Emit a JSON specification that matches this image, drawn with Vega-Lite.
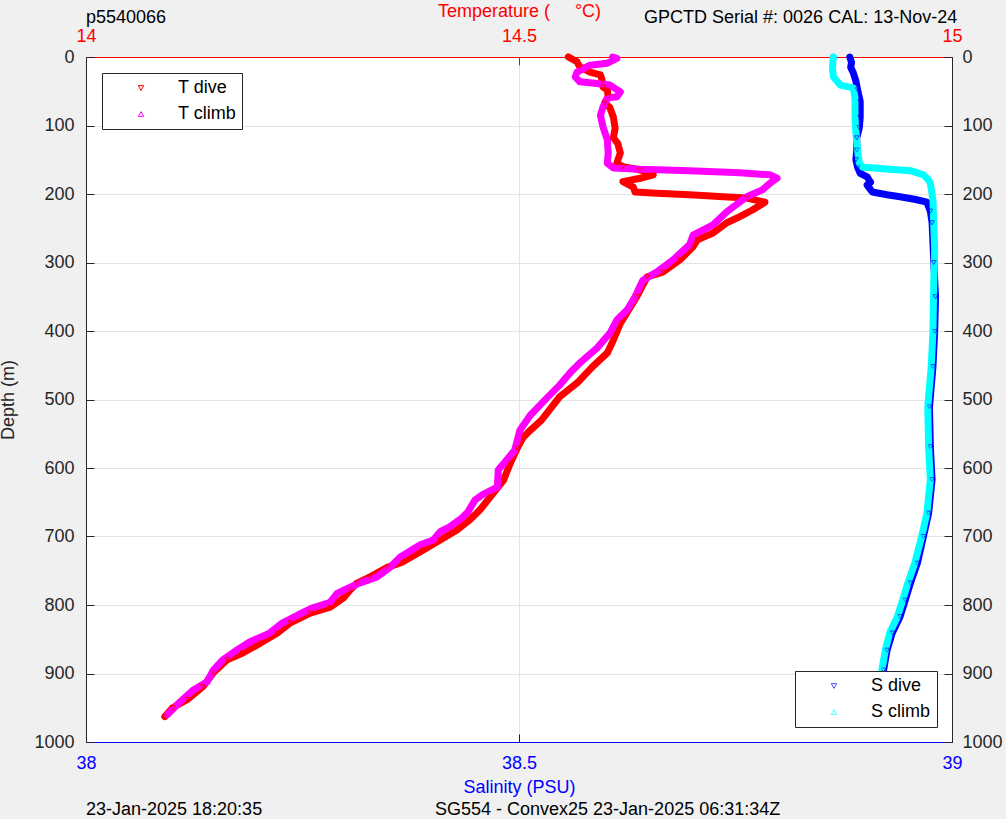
{
  "$schema": "https://vega.github.io/schema/vega-lite/v6.json",
  "width": 866,
  "height": 685,
  "autosize": {"type": "none"},
  "padding": {"left": 86, "top": 57, "right": 54, "bottom": 77},
  "background": "#f0f0f0",
  "config": {
    "view": {"fill": "white", "stroke": null},
    "font": "Liberation Sans",
    "axis": {"labelFont": "Liberation Sans", "titleFont": "Liberation Sans", "labelFontSize": 18, "titleFontSize": 18, "titleFontWeight": "normal", "labelFlush": false, "labelOverlap": false, "domainWidth": 1, "tickWidth": 1},
    "legend": {"labelFont": "Liberation Sans", "labelFontSize": 18, "labelColor": "#000000"}
  },
  "datasets": {
    "temp": [
      {"depth": 0, "T": 14.557, "series": "T dive"},
      {"depth": 7, "T": 14.567, "series": "T dive"},
      {"depth": 14, "T": 14.570, "series": "T dive"},
      {"depth": 22, "T": 14.582, "series": "T dive"},
      {"depth": 26, "T": 14.594, "series": "T dive"},
      {"depth": 34, "T": 14.596, "series": "T dive"},
      {"depth": 44, "T": 14.597, "series": "T dive"},
      {"depth": 48, "T": 14.602, "series": "T dive"},
      {"depth": 58, "T": 14.603, "series": "T dive"},
      {"depth": 67, "T": 14.599, "series": "T dive"},
      {"depth": 74, "T": 14.605, "series": "T dive"},
      {"depth": 88, "T": 14.609, "series": "T dive"},
      {"depth": 104, "T": 14.611, "series": "T dive"},
      {"depth": 118, "T": 14.609, "series": "T dive"},
      {"depth": 126, "T": 14.614, "series": "T dive"},
      {"depth": 140, "T": 14.617, "series": "T dive"},
      {"depth": 155, "T": 14.613, "series": "T dive"},
      {"depth": 160, "T": 14.620, "series": "T dive"},
      {"depth": 165, "T": 14.640, "series": "T dive"},
      {"depth": 172, "T": 14.655, "series": "T dive"},
      {"depth": 177, "T": 14.640, "series": "T dive"},
      {"depth": 182, "T": 14.620, "series": "T dive"},
      {"depth": 190, "T": 14.632, "series": "T dive"},
      {"depth": 197, "T": 14.634, "series": "T dive"},
      {"depth": 199, "T": 14.659, "series": "T dive"},
      {"depth": 201, "T": 14.697, "series": "T dive"},
      {"depth": 204, "T": 14.736, "series": "T dive"},
      {"depth": 206, "T": 14.763, "series": "T dive"},
      {"depth": 212, "T": 14.784, "series": "T dive"},
      {"depth": 223, "T": 14.770, "series": "T dive"},
      {"depth": 233, "T": 14.755, "series": "T dive"},
      {"depth": 242, "T": 14.740, "series": "T dive"},
      {"depth": 257, "T": 14.724, "series": "T dive"},
      {"depth": 267, "T": 14.706, "series": "T dive"},
      {"depth": 277, "T": 14.701, "series": "T dive"},
      {"depth": 296, "T": 14.686, "series": "T dive"},
      {"depth": 314, "T": 14.666, "series": "T dive"},
      {"depth": 321, "T": 14.648, "series": "T dive"},
      {"depth": 350, "T": 14.636, "series": "T dive"},
      {"depth": 389, "T": 14.617, "series": "T dive"},
      {"depth": 413, "T": 14.609, "series": "T dive"},
      {"depth": 432, "T": 14.602, "series": "T dive"},
      {"depth": 452, "T": 14.585, "series": "T dive"},
      {"depth": 476, "T": 14.567, "series": "T dive"},
      {"depth": 496, "T": 14.547, "series": "T dive"},
      {"depth": 530, "T": 14.526, "series": "T dive"},
      {"depth": 545, "T": 14.513, "series": "T dive"},
      {"depth": 555, "T": 14.505, "series": "T dive"},
      {"depth": 571, "T": 14.498, "series": "T dive"},
      {"depth": 593, "T": 14.490, "series": "T dive"},
      {"depth": 618, "T": 14.482, "series": "T dive"},
      {"depth": 642, "T": 14.467, "series": "T dive"},
      {"depth": 661, "T": 14.455, "series": "T dive"},
      {"depth": 676, "T": 14.443, "series": "T dive"},
      {"depth": 691, "T": 14.428, "series": "T dive"},
      {"depth": 705, "T": 14.409, "series": "T dive"},
      {"depth": 720, "T": 14.389, "series": "T dive"},
      {"depth": 737, "T": 14.366, "series": "T dive"},
      {"depth": 745, "T": 14.348, "series": "T dive"},
      {"depth": 759, "T": 14.328, "series": "T dive"},
      {"depth": 768, "T": 14.313, "series": "T dive"},
      {"depth": 778, "T": 14.305, "series": "T dive"},
      {"depth": 790, "T": 14.297, "series": "T dive"},
      {"depth": 803, "T": 14.282, "series": "T dive"},
      {"depth": 812, "T": 14.259, "series": "T dive"},
      {"depth": 826, "T": 14.236, "series": "T dive"},
      {"depth": 841, "T": 14.221, "series": "T dive"},
      {"depth": 856, "T": 14.201, "series": "T dive"},
      {"depth": 870, "T": 14.181, "series": "T dive"},
      {"depth": 880, "T": 14.163, "series": "T dive"},
      {"depth": 899, "T": 14.147, "series": "T dive"},
      {"depth": 919, "T": 14.135, "series": "T dive"},
      {"depth": 938, "T": 14.117, "series": "T dive"},
      {"depth": 950, "T": 14.100, "series": "T dive"},
      {"depth": 963, "T": 14.091, "series": "T dive"},
      {"depth": 0, "T": 14.608, "series": "T climb"},
      {"depth": 2, "T": 14.613, "series": "T climb"},
      {"depth": 9, "T": 14.602, "series": "T climb"},
      {"depth": 12, "T": 14.582, "series": "T climb"},
      {"depth": 22, "T": 14.567, "series": "T climb"},
      {"depth": 29, "T": 14.565, "series": "T climb"},
      {"depth": 36, "T": 14.570, "series": "T climb"},
      {"depth": 38, "T": 14.585, "series": "T climb"},
      {"depth": 41, "T": 14.605, "series": "T climb"},
      {"depth": 51, "T": 14.617, "series": "T climb"},
      {"depth": 58, "T": 14.613, "series": "T climb"},
      {"depth": 60, "T": 14.602, "series": "T climb"},
      {"depth": 73, "T": 14.597, "series": "T climb"},
      {"depth": 85, "T": 14.594, "series": "T climb"},
      {"depth": 102, "T": 14.597, "series": "T climb"},
      {"depth": 121, "T": 14.602, "series": "T climb"},
      {"depth": 140, "T": 14.603, "series": "T climb"},
      {"depth": 155, "T": 14.602, "series": "T climb"},
      {"depth": 162, "T": 14.609, "series": "T climb"},
      {"depth": 164, "T": 14.640, "series": "T climb"},
      {"depth": 166, "T": 14.697, "series": "T climb"},
      {"depth": 169, "T": 14.755, "series": "T climb"},
      {"depth": 172, "T": 14.790, "series": "T climb"},
      {"depth": 177, "T": 14.798, "series": "T climb"},
      {"depth": 184, "T": 14.790, "series": "T climb"},
      {"depth": 194, "T": 14.781, "series": "T climb"},
      {"depth": 204, "T": 14.763, "series": "T climb"},
      {"depth": 226, "T": 14.740, "series": "T climb"},
      {"depth": 245, "T": 14.724, "series": "T climb"},
      {"depth": 260, "T": 14.701, "series": "T climb"},
      {"depth": 274, "T": 14.697, "series": "T climb"},
      {"depth": 296, "T": 14.678, "series": "T climb"},
      {"depth": 314, "T": 14.659, "series": "T climb"},
      {"depth": 326, "T": 14.643, "series": "T climb"},
      {"depth": 350, "T": 14.634, "series": "T climb"},
      {"depth": 369, "T": 14.625, "series": "T climb"},
      {"depth": 384, "T": 14.613, "series": "T climb"},
      {"depth": 403, "T": 14.605, "series": "T climb"},
      {"depth": 425, "T": 14.590, "series": "T climb"},
      {"depth": 447, "T": 14.570, "series": "T climb"},
      {"depth": 461, "T": 14.559, "series": "T climb"},
      {"depth": 479, "T": 14.547, "series": "T climb"},
      {"depth": 498, "T": 14.532, "series": "T climb"},
      {"depth": 523, "T": 14.513, "series": "T climb"},
      {"depth": 545, "T": 14.501, "series": "T climb"},
      {"depth": 574, "T": 14.495, "series": "T climb"},
      {"depth": 588, "T": 14.486, "series": "T climb"},
      {"depth": 603, "T": 14.476, "series": "T climb"},
      {"depth": 628, "T": 14.475, "series": "T climb"},
      {"depth": 639, "T": 14.458, "series": "T climb"},
      {"depth": 647, "T": 14.449, "series": "T climb"},
      {"depth": 664, "T": 14.441, "series": "T climb"},
      {"depth": 673, "T": 14.434, "series": "T climb"},
      {"depth": 686, "T": 14.420, "series": "T climb"},
      {"depth": 693, "T": 14.409, "series": "T climb"},
      {"depth": 705, "T": 14.401, "series": "T climb"},
      {"depth": 712, "T": 14.386, "series": "T climb"},
      {"depth": 730, "T": 14.363, "series": "T climb"},
      {"depth": 745, "T": 14.351, "series": "T climb"},
      {"depth": 759, "T": 14.336, "series": "T climb"},
      {"depth": 768, "T": 14.316, "series": "T climb"},
      {"depth": 774, "T": 14.305, "series": "T climb"},
      {"depth": 783, "T": 14.290, "series": "T climb"},
      {"depth": 796, "T": 14.282, "series": "T climb"},
      {"depth": 804, "T": 14.262, "series": "T climb"},
      {"depth": 815, "T": 14.244, "series": "T climb"},
      {"depth": 826, "T": 14.227, "series": "T climb"},
      {"depth": 841, "T": 14.212, "series": "T climb"},
      {"depth": 854, "T": 14.189, "series": "T climb"},
      {"depth": 866, "T": 14.174, "series": "T climb"},
      {"depth": 880, "T": 14.158, "series": "T climb"},
      {"depth": 895, "T": 14.147, "series": "T climb"},
      {"depth": 912, "T": 14.140, "series": "T climb"},
      {"depth": 924, "T": 14.124, "series": "T climb"},
      {"depth": 941, "T": 14.109, "series": "T climb"},
      {"depth": 960, "T": 14.094, "series": "T climb"}
    ],
    "sal": [
      {"depth": 0, "S": 38.882, "series": "S dive"},
      {"depth": 8, "S": 38.884, "series": "S dive"},
      {"depth": 15, "S": 38.883, "series": "S dive"},
      {"depth": 23, "S": 38.886, "series": "S dive"},
      {"depth": 35, "S": 38.889, "series": "S dive"},
      {"depth": 48, "S": 38.891, "series": "S dive"},
      {"depth": 65, "S": 38.894, "series": "S dive"},
      {"depth": 88, "S": 38.894, "series": "S dive"},
      {"depth": 103, "S": 38.893, "series": "S dive"},
      {"depth": 118, "S": 38.890, "series": "S dive"},
      {"depth": 136, "S": 38.890, "series": "S dive"},
      {"depth": 150, "S": 38.889, "series": "S dive"},
      {"depth": 161, "S": 38.891, "series": "S dive"},
      {"depth": 170, "S": 38.894, "series": "S dive"},
      {"depth": 175, "S": 38.902, "series": "S dive"},
      {"depth": 183, "S": 38.906, "series": "S dive"},
      {"depth": 187, "S": 38.902, "series": "S dive"},
      {"depth": 192, "S": 38.905, "series": "S dive"},
      {"depth": 197, "S": 38.908, "series": "S dive"},
      {"depth": 201, "S": 38.925, "series": "S dive"},
      {"depth": 204, "S": 38.940, "series": "S dive"},
      {"depth": 208, "S": 38.958, "series": "S dive"},
      {"depth": 212, "S": 38.971, "series": "S dive"},
      {"depth": 225, "S": 38.975, "series": "S dive"},
      {"depth": 242, "S": 38.977, "series": "S dive"},
      {"depth": 300, "S": 38.979, "series": "S dive"},
      {"depth": 350, "S": 38.981, "series": "S dive"},
      {"depth": 401, "S": 38.980, "series": "S dive"},
      {"depth": 452, "S": 38.978, "series": "S dive"},
      {"depth": 511, "S": 38.974, "series": "S dive"},
      {"depth": 569, "S": 38.975, "series": "S dive"},
      {"depth": 617, "S": 38.977, "series": "S dive"},
      {"depth": 666, "S": 38.973, "series": "S dive"},
      {"depth": 700, "S": 38.967, "series": "S dive"},
      {"depth": 739, "S": 38.960, "series": "S dive"},
      {"depth": 768, "S": 38.952, "series": "S dive"},
      {"depth": 793, "S": 38.946, "series": "S dive"},
      {"depth": 817, "S": 38.940, "series": "S dive"},
      {"depth": 841, "S": 38.931, "series": "S dive"},
      {"depth": 866, "S": 38.925, "series": "S dive"},
      {"depth": 895, "S": 38.921, "series": "S dive"},
      {"depth": 928, "S": 38.917, "series": "S dive"},
      {"depth": 945, "S": 38.914, "series": "S dive"},
      {"depth": 0, "S": 38.863, "series": "S climb"},
      {"depth": 15, "S": 38.862, "series": "S climb"},
      {"depth": 29, "S": 38.863, "series": "S climb"},
      {"depth": 41, "S": 38.871, "series": "S climb"},
      {"depth": 45, "S": 38.886, "series": "S climb"},
      {"depth": 60, "S": 38.888, "series": "S climb"},
      {"depth": 88, "S": 38.888, "series": "S climb"},
      {"depth": 110, "S": 38.889, "series": "S climb"},
      {"depth": 136, "S": 38.891, "series": "S climb"},
      {"depth": 155, "S": 38.893, "series": "S climb"},
      {"depth": 161, "S": 38.897, "series": "S climb"},
      {"depth": 162, "S": 38.910, "series": "S climb"},
      {"depth": 163, "S": 38.920, "series": "S climb"},
      {"depth": 166, "S": 38.952, "series": "S climb"},
      {"depth": 172, "S": 38.967, "series": "S climb"},
      {"depth": 178, "S": 38.972, "series": "S climb"},
      {"depth": 184, "S": 38.975, "series": "S climb"},
      {"depth": 209, "S": 38.978, "series": "S climb"},
      {"depth": 282, "S": 38.980, "series": "S climb"},
      {"depth": 326, "S": 38.979, "series": "S climb"},
      {"depth": 401, "S": 38.978, "series": "S climb"},
      {"depth": 452, "S": 38.976, "series": "S climb"},
      {"depth": 511, "S": 38.972, "series": "S climb"},
      {"depth": 569, "S": 38.973, "series": "S climb"},
      {"depth": 617, "S": 38.975, "series": "S climb"},
      {"depth": 666, "S": 38.971, "series": "S climb"},
      {"depth": 700, "S": 38.965, "series": "S climb"},
      {"depth": 739, "S": 38.957, "series": "S climb"},
      {"depth": 768, "S": 38.949, "series": "S climb"},
      {"depth": 793, "S": 38.943, "series": "S climb"},
      {"depth": 817, "S": 38.937, "series": "S climb"},
      {"depth": 841, "S": 38.928, "series": "S climb"},
      {"depth": 866, "S": 38.923, "series": "S climb"},
      {"depth": 895, "S": 38.919, "series": "S climb"},
      {"depth": 928, "S": 38.915, "series": "S climb"},
      {"depth": 965, "S": 38.911, "series": "S climb"}
    ]
  },
  "layer": [
    {
      "data": {"name": "temp"},
      "layer": [
        {
          "transform": [{"filter": "datum.series == 'T dive'"}],
          "mark": {"type": "line", "strokeWidth": 7, "strokeJoin": "round", "strokeCap": "round", "color": "#ff0000"},
          "encoding": {
            "x": {"field": "T", "type": "quantitative", "scale": {"domain": [14, 15], "nice": false, "zero": false},
              "axis": {"orient": "top", "values": [14, 14.5, 15], "format": "~g", "labelColor": "#ff0000", "domainColor": "#ff0000", "tickColor": "#ff0000", "tickSize": -8, "labelPadding": 20, "title": "Temperature (\u00a0\u00a0\u00a0\u00a0\u00a0°C)", "titleColor": "#ff0000", "titlePadding": 7, "grid": true, "gridColor": "#ff0000", "gridOpacity": 0.15}},
            "y": {"field": "depth", "type": "quantitative", "scale": {"domain": [0, 1000], "reverse": true, "nice": false, "zero": false},
              "axis": {"orient": "left", "values": [0, 100, 200, 300, 400, 500, 600, 700, 800, 900, 1000], "format": "d", "labelColor": "#262626", "domainColor": "#262626", "tickColor": "#262626", "tickSize": -8, "labelPadding": 20, "title": "Depth (m)", "titleColor": "#262626", "titlePadding": 16, "grid": true, "gridColor": "#e3e3e3"}},
            "order": {"field": "depth", "type": "quantitative"}
          }
        },
        {
          "transform": [{"filter": "datum.series == 'T climb'"}],
          "mark": {"type": "line", "strokeWidth": 7, "strokeJoin": "round", "strokeCap": "round", "color": "#ff00ff"},
          "encoding": {
            "x": {"field": "T", "type": "quantitative"},
            "y": {"field": "depth", "type": "quantitative"},
            "order": {"field": "depth", "type": "quantitative"}
          }
        },
        {
          "mark": {"type": "point", "filled": false, "size": 22, "strokeWidth": 1, "opacity": 1},
          "encoding": {
            "x": {"field": "T", "type": "quantitative"},
            "y": {"field": "depth", "type": "quantitative"},
            "color": {"field": "series", "type": "nominal", "scale": {"domain": ["T dive", "T climb"], "range": ["#ff0000", "#ff00ff"]},
              "legend": {"title": null, "orient": "top-left", "offset": 16, "padding": 6, "strokeColor": "#262626", "fillColor": "#ffffff", "symbolOffset": 24, "labelOffset": 28, "rowPadding": 8, "symbolSize": 30, "symbolStrokeWidth": 1, "labelExpr": "datum.label + '\u00a0\u00a0\u00a0'"}},
            "shape": {"field": "series", "type": "nominal", "scale": {"domain": ["T dive", "T climb"], "range": ["triangle-down", "triangle-up"]},
              "legend": {"title": null, "orient": "top-left", "offset": 16, "padding": 6, "strokeColor": "#262626", "fillColor": "#ffffff", "symbolOffset": 24, "labelOffset": 28, "rowPadding": 8, "symbolSize": 30, "symbolStrokeWidth": 1, "labelExpr": "datum.label + '\u00a0\u00a0\u00a0'"}}
          }
        },
        {
          "data": {"values": [{}]},
          "mark": {"type": "text", "align": "left", "baseline": "middle", "fontSize": 18, "font": "Liberation Sans", "color": "#000000"},
          "encoding": {"x": {"datum": 14}, "y": {"datum": -57}, "text": {"value": "p5540066"}}
        },
        {
          "data": {"values": [{}]},
          "mark": {"type": "text", "align": "right", "baseline": "middle", "fontSize": 18, "font": "Liberation Sans", "color": "#000000"},
          "encoding": {"x": {"datum": 15.006}, "y": {"datum": -57}, "text": {"value": "GPCTD Serial #: 0026 CAL: 13-Nov-24"}}
        }
      ]
    },
    {
      "data": {"name": "sal"},
      "layer": [
        {
          "transform": [{"filter": "datum.series == 'S dive'"}],
          "mark": {"type": "line", "strokeWidth": 7, "strokeJoin": "round", "strokeCap": "round", "color": "#0000ff"},
          "encoding": {
            "x": {"field": "S", "type": "quantitative", "scale": {"domain": [38, 39], "nice": false, "zero": false},
              "axis": {"orient": "bottom", "values": [38, 38.5, 39], "format": "~g", "labelColor": "#0000ff", "domainColor": "#0000ff", "tickColor": "#0000ff", "tickSize": -8, "labelPadding": 20, "title": "Salinity (PSU)", "titleColor": "#0000ff", "titlePadding": 6, "grid": false}},
            "y": {"field": "depth", "type": "quantitative", "scale": {"domain": [0, 1000], "reverse": true, "nice": false, "zero": false},
              "axis": {"orient": "right", "values": [0, 100, 200, 300, 400, 500, 600, 700, 800, 900, 1000], "format": "d", "labelColor": "#262626", "domainColor": "#262626", "tickColor": "#262626", "tickSize": -8, "labelPadding": 18, "title": null, "grid": false}},
            "order": {"field": "depth", "type": "quantitative"}
          }
        },
        {
          "transform": [{"filter": "datum.series == 'S climb'"}],
          "mark": {"type": "line", "strokeWidth": 7, "strokeJoin": "round", "strokeCap": "round", "color": "#00ffff"},
          "encoding": {
            "x": {"field": "S", "type": "quantitative"},
            "y": {"field": "depth", "type": "quantitative"},
            "order": {"field": "depth", "type": "quantitative"}
          }
        },
        {
          "mark": {"type": "point", "filled": false, "size": 22, "strokeWidth": 1},
          "encoding": {
            "x": {"field": "S", "type": "quantitative"},
            "y": {"field": "depth", "type": "quantitative"},
            "color": {"field": "series", "type": "nominal", "scale": {"domain": ["S dive", "S climb"], "range": ["#0000ff", "#00ffff"]},
              "legend": {"title": null, "orient": "bottom-right", "offset": 15, "padding": 6, "strokeColor": "#262626", "fillColor": "#ffffff", "symbolOffset": 24, "labelOffset": 28, "rowPadding": 8, "symbolSize": 30, "symbolStrokeWidth": 1, "labelExpr": "datum.label + '\u00a0\u00a0'"}},
            "shape": {"field": "series", "type": "nominal", "scale": {"domain": ["S dive", "S climb"], "range": ["triangle-down", "triangle-up"]},
              "legend": {"title": null, "orient": "bottom-right", "offset": 15, "padding": 6, "strokeColor": "#262626", "fillColor": "#ffffff", "symbolOffset": 24, "labelOffset": 28, "rowPadding": 8, "symbolSize": 30, "symbolStrokeWidth": 1, "labelExpr": "datum.label + '\u00a0\u00a0'"}}
          }
        },
        {
          "data": {"values": [{}]},
          "mark": {"type": "text", "align": "left", "baseline": "middle", "fontSize": 18, "font": "Liberation Sans", "color": "#000000"},
          "encoding": {"x": {"datum": 38}, "y": {"datum": 1099}, "text": {"value": "23-Jan-2025 18:20:35"}}
        },
        {
          "data": {"values": [{}]},
          "mark": {"type": "text", "align": "left", "baseline": "middle", "fontSize": 18, "font": "Liberation Sans", "color": "#000000"},
          "encoding": {"x": {"datum": 38.403}, "y": {"datum": 1099}, "text": {"value": "SG554 - Convex25 23-Jan-2025 06:31:34Z"}}
        }
      ]
    }
  ],
  "resolve": {
    "scale": {"x": "independent", "color": "independent", "shape": "independent"},
    "axis": {"x": "independent", "y": "independent"}
  }
}
